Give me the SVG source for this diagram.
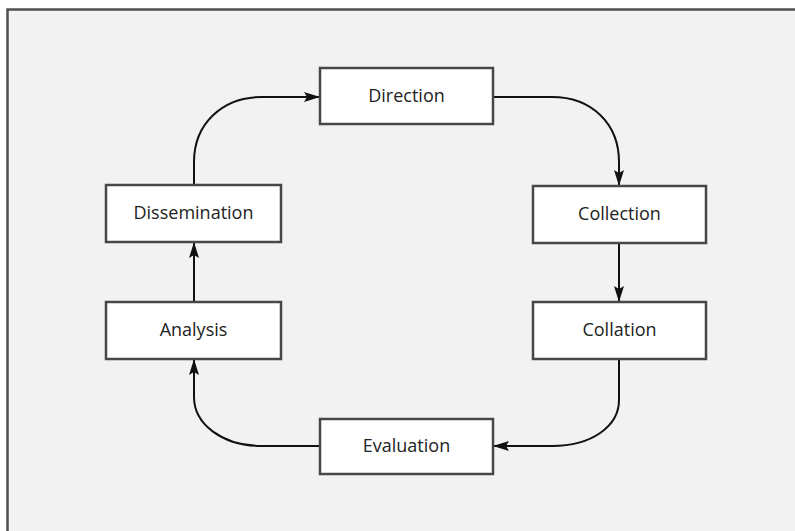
<svg xmlns="http://www.w3.org/2000/svg" width="795" height="531" viewBox="0 0 795 531">
<style>
.box{fill:#fff;stroke:#474747;stroke-width:2.5}
.lbl{font-family:"Open Sans","Noto Sans",sans-serif;font-size:18px;fill:#222;text-anchor:middle}
.con{fill:none;stroke:#111;stroke-width:2}
</style>
<defs>
<marker id="ah" viewBox="0 0 16 10" refX="16" refY="5" markerWidth="16" markerHeight="10" markerUnits="userSpaceOnUse" orient="auto">
<path d="M0,0 L16,5 L0,10 L3,5 Z" fill="#111"/>
</marker>
</defs>
<rect x="0" y="0" width="795" height="531" fill="#fff"/>
<rect x="7.5" y="9.5" width="800" height="540" fill="#f2f2f2" stroke="#505050" stroke-width="2.5"/>
<g id="connectors">
<path class="con" d="M194,185 L194,162 C194,124 222,97 262,97 L320,97" marker-end="url(#ah)"/>
<path class="con" d="M493,97 L552,97 C592,97 619,124 619,162 L619,186" marker-end="url(#ah)"/>
<path class="con" d="M619,243 L619,302" marker-end="url(#ah)"/>
<path class="con" d="M619,359 L619,400 C619,426 592,446 552,446 L493,446" marker-end="url(#ah)"/>
<path class="con" d="M320,446 L262,446 C222,446 194,424 194,397 L194,359" marker-end="url(#ah)"/>
<path class="con" d="M194,302 L194,242" marker-end="url(#ah)"/>
</g>
<g id="direction"><rect class="box" x="320" y="68" width="173" height="56"/><text class="lbl" x="406.5" y="102">Direction</text></g>
<g id="collection"><rect class="box" x="533" y="186" width="173" height="57"/><text class="lbl" x="619.5" y="220">Collection</text></g>
<g id="collation"><rect class="box" x="533" y="302" width="173" height="57"/><text class="lbl" x="619.5" y="336">Collation</text></g>
<g id="evaluation"><rect class="box" x="320" y="419" width="173" height="55"/><text class="lbl" x="406.5" y="452">Evaluation</text></g>
<g id="analysis"><rect class="box" x="106" y="302" width="175" height="57"/><text class="lbl" x="193.5" y="336">Analysis</text></g>
<g id="dissemination"><rect class="box" x="106" y="185" width="175" height="57"/><text class="lbl" x="193.5" y="219">Dissemination</text></g>
</svg>
